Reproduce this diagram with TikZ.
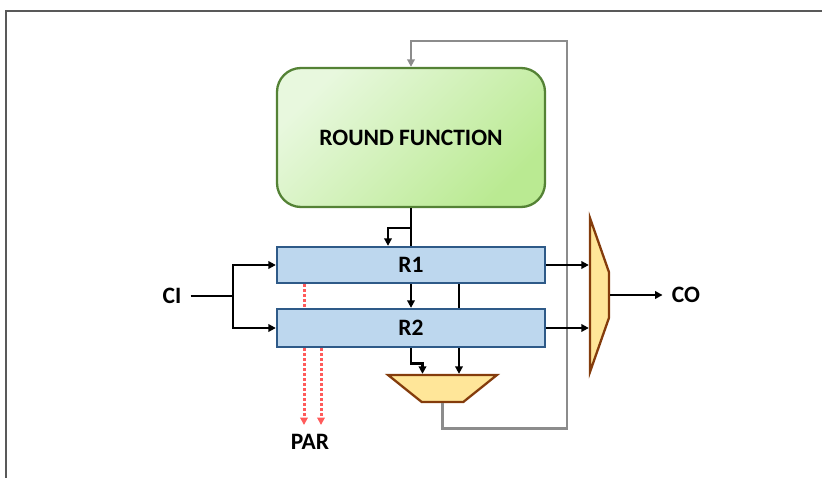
\documentclass[tikz,border=0pt]{standalone}
\usepackage{fontspec}
\setmainfont{Carlito}
\usetikzlibrary{arrows.meta,shapes.geometric}
\definecolor{rfTop}{HTML}{E8F8DE}
\definecolor{rfBot}{HTML}{BAEA92}
\definecolor{rfLine}{HTML}{548235}
\definecolor{regFill}{HTML}{BDD7EE}
\definecolor{regLine}{HTML}{2E5A88}
\definecolor{muxFill}{HTML}{FFE699}
\definecolor{muxLine}{HTML}{843C0C}
\definecolor{parRed}{HTML}{FF5B5B}
\definecolor{fbGray}{HTML}{8C8C8C}

\begin{document}
\begin{tikzpicture}[x=1pt,y=-1pt,line width=2.7pt,>={Triangle[length=7.5pt,width=7.5pt]},
    font=\fontsize{23.5}{28}\selectfont\bfseries,
    reg/.style={draw=regLine,line width=2.3pt,fill=regFill,minimum width=268pt,minimum height=36pt},
    mux/.style={trapezium,trapezium stretches=true,line width=2.3pt,draw=muxLine,fill=muxFill},
    lbl/.style={inner sep=8pt},
    par/.style={parRed,line width=3pt,dash pattern=on 3pt off 2pt}]
    \useasboundingbox (0,0) rectangle (822,478);
    \draw[line width=1.3pt,black!65] (6,478) -- (6,11) -- (822,11);

    \node[draw=rfLine,line width=2.3pt,rounded corners=24pt,top color=rfTop,bottom color=rfBot,shading angle=45,
          minimum width=268pt,minimum height=139pt] at (411,137.5) (RF) {ROUND FUNCTION};
    \node[reg] at (411,265) (R1) {R1};
    \node[reg,minimum height=38pt] at (411,328) (R2) {R2};
    \node[mux,shape border rotate=180,trapezium angle=51,minimum width=109pt,minimum height=27pt] at (442.5,388.5) (MB) {};
    \node[mux,shape border rotate=270,trapezium angle=40,minimum width=154pt,minimum height=19pt] at (599.5,295) (MR) {};
    \node[lbl] at (172,296) (CI) {CI};
    \node[lbl] at (686,295) (CO) {CO};
    \node[lbl] at (310,442) (PAR) {PAR};
    \coordinate (fork) at (233,296);
    \coordinate (loop) at (567,41);

    \draw (RF) -- (R1);
    \draw[->] (RF.south) ++(0,20) -| ([xshift=-23pt]R1.north);
    \draw[->] (R1) -- (R2);
    \draw ([xshift=48pt]R1.south) -- ([xshift=48pt]R2.north);
    \draw[->] ([xshift=48pt]R2.south) -- ([xshift=48pt]R2.south |- MB.north);
    \draw[->] (R2.south) -- ++(0,15) -| ([xshift=-20pt]MB.north);
    \draw[->,fbGray] (MB.south) -- ++(0,25) -| (loop) -| (RF.north);
    \draw (CI) -- (fork);
    \draw[->] (fork) |- (R1.west);
    \draw[->] (fork) |- (R2.west);
    \draw[->] (R1.east) -- (R1.east -| MR.west);
    \draw[->] (R2.east) -- (R2.east -| MR.west);
    \draw[->] (MR.east) -- (CO);
    \draw[par] ([xshift=-107pt]R1.south) -- ([xshift=-107pt]R2.north);
    \draw[par,->] ([xshift=-107pt]R2.south) -- ([xshift=-107pt]R2.south |- PAR.north);
    \draw[par,->] ([xshift=-90pt]R2.south) -- ([xshift=-90pt]R2.south |- PAR.north);
\end{tikzpicture}
\end{document}
